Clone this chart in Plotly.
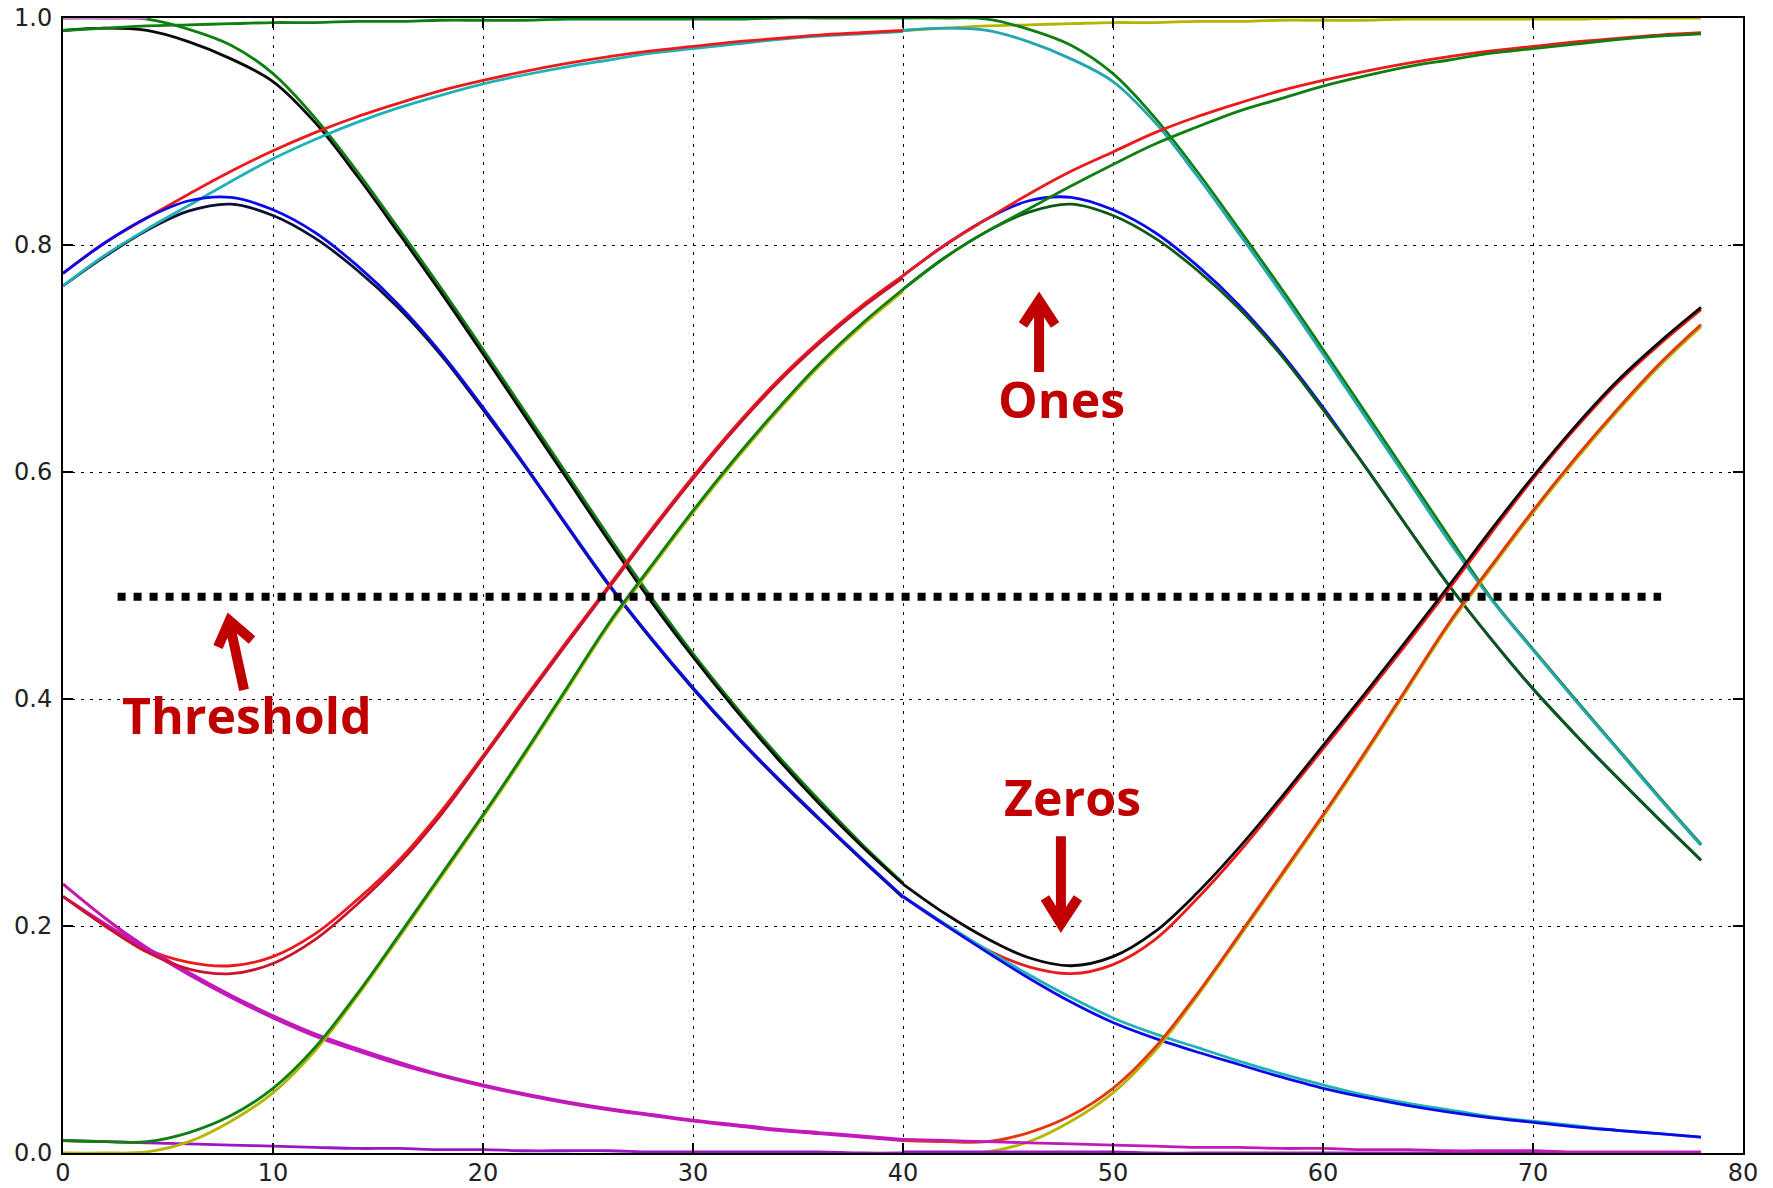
import plotly.graph_objects as go

# ---- time axis of the two runs ----
t_run1 = [0, 2, 4, 6, 8, 10, 12, 14, 16, 18, 20, 22, 24, 26, 28, 30, 32, 34, 36, 38, 40]
t_run2 = [40, 42, 44, 46, 48, 50, 52, 54, 56, 58, 60, 62, 64, 66, 68, 70, 72, 74, 76, 78]
t_top = [0, 2, 4]

# ---- first run (t = 0 .. 40) ----
run1_top_flat = [1.000, 1.000, 1.000]
run1_green_fall = [1.000, 1.000, 0.999, 0.990, 0.976, 0.951, 0.912, 0.865, 0.814, 0.762, 0.708,
                   0.653, 0.598, 0.543, 0.490, 0.440, 0.394, 0.351, 0.311, 0.273, 0.238]
run1_black_fall = [0.989, 0.991, 0.989, 0.979, 0.964, 0.944, 0.908, 0.861, 0.810, 0.758, 0.704,
                   0.649, 0.594, 0.539, 0.486, 0.437, 0.391, 0.348, 0.308, 0.271, 0.237]
run1_green_rise = [0.989, 0.991, 0.993, 0.994, 0.995, 0.996, 0.996, 0.997, 0.997, 0.998, 0.998,
                   0.998, 0.999, 0.999, 0.999, 0.999, 0.999, 1.000, 1.000, 1.000, 1.000]
run1_navy_peak = [0.764, 0.790, 0.813, 0.830, 0.836, 0.826, 0.806, 0.778, 0.744, 0.703, 0.655,
                  0.605, 0.552, 0.500, 0.453, 0.409, 0.368, 0.330, 0.294, 0.259, 0.225]
run1_blue_peak = [0.775, 0.802, 0.824, 0.839, 0.842, 0.831, 0.811, 0.782, 0.747, 0.705, 0.657,
                  0.606, 0.553, 0.501, 0.454, 0.410, 0.369, 0.331, 0.295, 0.260, 0.226]
run1_cyan_rise = [0.764, 0.791, 0.814, 0.835, 0.856, 0.876, 0.893, 0.908, 0.921, 0.932, 0.942,
                  0.950, 0.957, 0.963, 0.969, 0.973, 0.977, 0.981, 0.984, 0.986, 0.988]
run1_red_rise = [0.775, 0.802, 0.824, 0.845, 0.865, 0.883, 0.899, 0.913, 0.925, 0.936, 0.945,
                 0.953, 0.960, 0.966, 0.971, 0.975, 0.979, 0.982, 0.985, 0.987, 0.989]
run1_red_upper = [0.237, 0.207, 0.180, 0.168, 0.165, 0.173, 0.193, 0.223, 0.258, 0.301, 0.350,
                  0.401, 0.451, 0.500, 0.549, 0.596, 0.640, 0.680, 0.715, 0.746, 0.773]
run1_magenta_a = [0.237, 0.207, 0.181, 0.159, 0.139, 0.121, 0.105, 0.092, 0.080, 0.069, 0.060,
                  0.052, 0.045, 0.039, 0.034, 0.029, 0.025, 0.021, 0.018, 0.015, 0.012]
run1_magenta_b = [0.226, 0.202, 0.179, 0.157, 0.137, 0.119, 0.103, 0.090, 0.078, 0.068, 0.059,
                  0.051, 0.044, 0.038, 0.033, 0.028, 0.024, 0.020, 0.017, 0.014, 0.011]
run1_red_lower = [0.226, 0.200, 0.177, 0.162, 0.158, 0.167, 0.188, 0.219, 0.255, 0.298, 0.348,
                  0.399, 0.449, 0.498, 0.547, 0.594, 0.638, 0.678, 0.713, 0.744, 0.771]
run1_purple = [0.011, 0.010, 0.009, 0.008, 0.007, 0.006, 0.005, 0.004, 0.004, 0.003, 0.003,
               0.002, 0.002, 0.002, 0.001, 0.001, 0.001, 0.001, 0.001, 0.000, 0.000]
run1_yellow_sig = [0.000, 0.000, 0.001, 0.010, 0.028, 0.053, 0.090, 0.138, 0.190, 0.243, 0.296,
                   0.351, 0.408, 0.465, 0.515, 0.564, 0.610, 0.653, 0.693, 0.728, 0.759]
run1_green_sig = [0.011, 0.010, 0.010, 0.018, 0.033, 0.057, 0.093, 0.140, 0.192, 0.245, 0.298,
                  0.353, 0.410, 0.467, 0.517, 0.566, 0.612, 0.655, 0.695, 0.730, 0.761]

# ---- second run (t = 40 .. 78) ----
run2_yellow_top = [0.989, 0.991, 0.993, 0.994, 0.995, 0.996, 0.996, 0.997, 0.997, 0.998,
                   0.998, 0.998, 0.999, 0.999, 0.999, 0.999, 0.999, 1.000, 1.000, 1.000]
run2_green_fall = [1.000, 1.000, 0.999, 0.990, 0.976, 0.951, 0.912, 0.865, 0.814, 0.762,
                   0.708, 0.653, 0.598, 0.543, 0.489, 0.444, 0.400, 0.357, 0.314, 0.272]
run2_cyan_fall = [0.989, 0.991, 0.989, 0.979, 0.964, 0.944, 0.908, 0.861, 0.810, 0.758,
                  0.704, 0.649, 0.594, 0.539, 0.488, 0.443, 0.399, 0.356, 0.313, 0.271]
run2_blue_peak = [0.773, 0.800, 0.823, 0.839, 0.842, 0.831, 0.811, 0.782, 0.747, 0.705,
                  0.657, 0.605, 0.552, 0.500, 0.453, 0.409, 0.369, 0.331, 0.294, 0.258]
run2_dkgreen_peak = [0.761, 0.789, 0.812, 0.829, 0.836, 0.826, 0.806, 0.778, 0.744, 0.703,
                     0.655, 0.605, 0.552, 0.500, 0.453, 0.409, 0.369, 0.331, 0.294, 0.258]
run2_red_rise = [0.773, 0.800, 0.823, 0.845, 0.865, 0.882, 0.899, 0.913, 0.925, 0.936,
                 0.945, 0.953, 0.960, 0.966, 0.971, 0.975, 0.979, 0.982, 0.985, 0.987]
run2_green_rise = [0.761, 0.789, 0.812, 0.832, 0.852, 0.871, 0.889, 0.904, 0.918, 0.929,
                   0.940, 0.949, 0.957, 0.963, 0.969, 0.973, 0.977, 0.981, 0.984, 0.986]
run2_red_min = [0.226, 0.201, 0.179, 0.164, 0.158, 0.166, 0.188, 0.224, 0.265, 0.310,
                0.356, 0.402, 0.449, 0.497, 0.546, 0.594, 0.638, 0.678, 0.712, 0.743]
run2_black_min = [0.237, 0.211, 0.189, 0.172, 0.165, 0.173, 0.195, 0.229, 0.269, 0.313,
                  0.359, 0.405, 0.452, 0.500, 0.549, 0.596, 0.640, 0.680, 0.714, 0.745]
run2_cyan_dec = [0.226, 0.202, 0.179, 0.157, 0.137, 0.119, 0.105, 0.093, 0.081, 0.070,
                 0.060, 0.051, 0.044, 0.038, 0.032, 0.028, 0.024, 0.020, 0.017, 0.014]
run2_blue_dec = [0.226, 0.201, 0.177, 0.154, 0.133, 0.115, 0.101, 0.089, 0.078, 0.067,
                 0.057, 0.049, 0.042, 0.036, 0.031, 0.027, 0.023, 0.020, 0.017, 0.014]
run2_yellow_sig = [0.000, 0.000, 0.001, 0.010, 0.028, 0.053, 0.090, 0.138, 0.190, 0.243,
                   0.296, 0.351, 0.408, 0.465, 0.515, 0.564, 0.610, 0.653, 0.693, 0.728]
run2_red_sig = [0.011, 0.010, 0.010, 0.018, 0.033, 0.057, 0.093, 0.140, 0.192, 0.245,
                0.298, 0.353, 0.410, 0.467, 0.517, 0.566, 0.612, 0.655, 0.695, 0.730]
run2_purple = [0.001, 0.001, 0.001, 0.001, 0.001, 0.001, 0.000, 0.000, 0.000, 0.000,
               0.000, 0.000, 0.000, 0.000, 0.000, 0.000, 0.000, 0.000, 0.000, 0.000]
run2_magenta_dec = [0.012, 0.011, 0.010, 0.009, 0.008, 0.007, 0.006, 0.005, 0.005, 0.004,
                    0.004, 0.003, 0.003, 0.002, 0.002, 0.002, 0.001, 0.001, 0.001, 0.001]

# ---- decision threshold ----
threshold_x = [2.6, 76.1]
threshold_y = [0.49, 0.49]

# ---- axis ticks ----
x_ticks = [0, 10, 20, 30, 40, 50, 60, 70, 80]
y_ticks = [0.0, 0.2, 0.4, 0.6, 0.8, 1.0]
y_tick_text = ["0.0", "0.2", "0.4", "0.6", "0.8", "1.0"]

BLUE = "#0b0bea"
GREEN = "#0f7f0f"
RED = "#ec1a1a"
CYAN = "#1fb2b8"
MAGENTA = "#c21ab8"
YELLOW = "#b5b500"
BLACK = "#0a0a0a"
NAVY = "#101035"
CRIMSON = "#c8142e"
PURPLE = "#9b16c4"
PINK = "#d77ad7"
DKGREEN = "#0c5a12"
TEAL = "#24a6b0"
ORANGE = "#e2380e"
ANNOT = "#c00000"

# drawing order: later entries sit on top
series = [
    (t_run1, run1_green_fall, GREEN),
    (t_top, run1_top_flat, PINK),
    (t_run1, run1_black_fall, BLACK),
    (t_run1, run1_green_rise, GREEN),
    (t_run1, run1_navy_peak, NAVY),
    (t_run1, run1_cyan_rise, CYAN),
    (t_run1, run1_red_rise, RED),
    (t_run1, run1_blue_peak, BLUE),
    (t_run1, run1_red_upper, RED),
    (t_run1, run1_magenta_a, MAGENTA),
    (t_run1, run1_magenta_b, MAGENTA),
    (t_run1, run1_red_lower, CRIMSON),
    (t_run1, run1_purple, PURPLE),
    (t_run1, run1_yellow_sig, YELLOW),
    (t_run1, run1_green_sig, GREEN),
    (t_run2, run2_yellow_top, YELLOW),
    (t_run2, run2_green_fall, GREEN),
    (t_run2, run2_cyan_fall, TEAL),
    (t_run2, run2_blue_peak, BLUE),
    (t_run2, run2_dkgreen_peak, DKGREEN),
    (t_run2, run2_red_rise, RED),
    (t_run2, run2_green_rise, GREEN),
    (t_run2, run2_red_min, RED),
    (t_run2, run2_black_min, BLACK),
    (t_run2, run2_cyan_dec, CYAN),
    (t_run2, run2_blue_dec, BLUE),
    (t_run2, run2_yellow_sig, YELLOW),
    (t_run2, run2_red_sig, ORANGE),
    (t_run2, run2_purple, PURPLE),
    (t_run2, run2_magenta_dec, MAGENTA),
]

fig = go.Figure()
for xs, ys, col in series:
    fig.add_trace(go.Scatter(
        x=xs, y=ys, mode="lines",
        line=dict(color=col, width=2.8, shape="spline", smoothing=1.0),
        hoverinfo="skip", showlegend=False,
    ))

fig.add_trace(go.Scatter(
    x=threshold_x, y=threshold_y, mode="lines",
    line=dict(color="black", width=8, dash="dot"),
    hoverinfo="skip", showlegend=False,
))

# hand-drawn style arrows
arrow_style = dict(color=ANNOT, width=10)
shapes = [
    # "Ones" arrow (pointing up)
    dict(type="path", xref="x", yref="y", line=arrow_style,
         path="M 46.48 0.688 L 46.48 0.745 M 45.71 0.7295 L 46.48 0.751 L 47.24 0.7295"),
    # "Zeros" arrow (pointing down)
    dict(type="path", xref="x", yref="y", line=arrow_style,
         path="M 47.52 0.279 L 47.52 0.208 M 46.76 0.2247 L 47.52 0.202 L 48.33 0.2247"),
    # "Threshold" arrow (slanted up)
    dict(type="path", xref="x", yref="y", line=arrow_style,
         path="M 8.62 0.408 L 7.95 0.465 M 7.38 0.4458 L 7.93 0.469 L 9.0 0.452"),
]

annot_font = dict(family="Open Sans", size=50, color=ANNOT, weight="bold")
annotations = [
    dict(x=47.57, y=0.664, text="Ones", showarrow=False, font=annot_font,
         xanchor="center", yanchor="middle"),
    dict(x=48.05, y=0.314, text="Zeros", showarrow=False, font=annot_font,
         xanchor="center", yanchor="middle"),
    dict(x=8.76, y=0.386, text="Threshold", showarrow=False, font=annot_font,
         xanchor="center", yanchor="middle"),
]

axis_common = dict(
    showline=True, linecolor="black", linewidth=2, mirror="ticks",
    ticks="inside", ticklen=10, tickwidth=1.5, tickcolor="black",
    showgrid=True, gridcolor="black", gridwidth=1.3, griddash="3px,6px",
    zeroline=False, automargin=False,
    tickfont=dict(family="DejaVu Sans", size=24, color="#222222"),
)

fig.update_layout(
    width=1773, height=1188,
    margin=dict(l=63, r=30, t=18, b=35, autoexpand=False),
    paper_bgcolor="white", plot_bgcolor="white",
    shapes=shapes, annotations=annotations,
    xaxis=dict(range=[0, 80], tickvals=x_ticks, ticklabelstandoff=-3, **axis_common),
    yaxis=dict(range=[0, 1], tickvals=y_ticks, ticktext=y_tick_text,
               ticklabelstandoff=4, **axis_common),
)

fig.write_html("out.html")
